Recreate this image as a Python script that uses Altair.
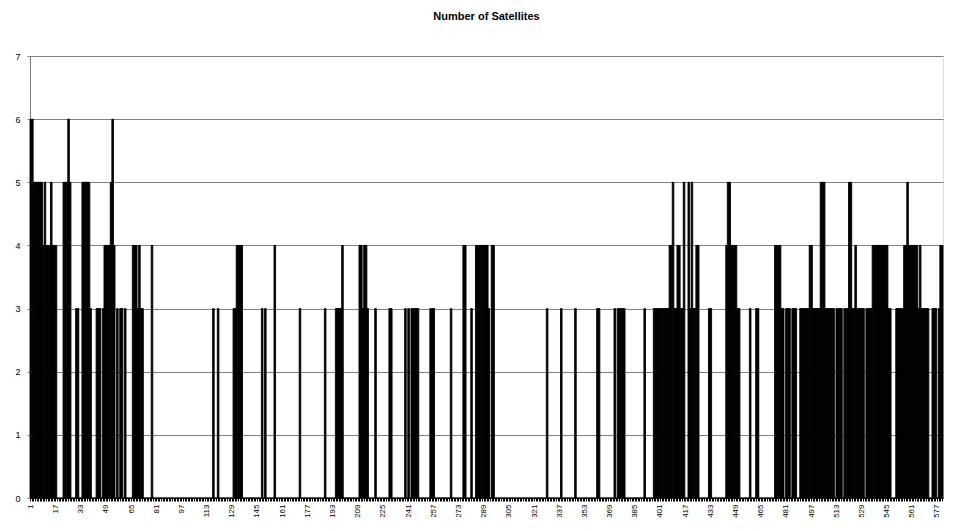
import altair as alt
import pandas as pd

title_text = "Number of Satellites"

# Run-length reading of the bars, left to right: value and number of consecutive bars
run_values = [
    6, 5, 4, 5, 4, 5, 4, 0, 5, 6,
    5, 0, 3, 0, 5, 3, 0, 3, 0, 3,
    4, 5, 6, 4, 0, 3, 0, 3, 0, 3,
    0, 4, 3, 4, 3, 0, 4, 0, 3, 0,
    3, 0, 3, 4, 0, 3, 0, 3, 0, 4,
    0, 3, 0, 3, 0, 3, 4, 0, 4, 3,
    4, 3, 0, 3, 0, 3, 0, 3, 0, 3,
    0, 3, 0, 3, 0, 3, 0, 4, 0, 3,
    0, 4, 3, 0, 4, 0, 3, 0, 3, 0,
    3, 0, 3, 0, 3, 0, 3, 0, 3, 0,
    3, 4, 5, 3, 4, 3, 5, 0, 5, 3,
    5, 3, 4, 0, 3, 0, 4, 5, 4, 3,
    0, 3, 0, 3, 0, 4, 3, 0, 3, 0,
    3, 0, 3, 4, 3, 5, 3, 0, 3, 0,
    3, 5, 3, 4, 3, 0, 3, 4, 3, 0,
    3, 4, 5, 4, 3, 4, 3, 0, 3, 0,
    3, 4,
]
run_lengths = [
    2, 6, 1, 1, 3, 1, 3, 4, 3, 1,
    1, 3, 2, 2, 5, 1, 3, 3, 1, 1,
    4, 1, 1, 1, 1, 1, 1, 2, 1, 1,
    4, 3, 1, 1, 2, 5, 1, 38, 1, 2,
    1, 9, 2, 4, 12, 1, 1, 1, 5, 1,
    15, 1, 15, 1, 6, 4, 1, 10, 2, 1,
    2, 1, 4, 1, 8, 2, 8, 1, 1, 1,
    1, 5, 7, 3, 10, 1, 7, 2, 3, 1,
    2, 8, 1, 1, 2, 33, 1, 8, 1, 8,
    1, 13, 2, 9, 1, 1, 5, 12, 1, 5,
    10, 2, 1, 2, 2, 2, 1, 2, 1, 1,
    1, 2, 2, 6, 2, 9, 1, 2, 4, 2,
    6, 1, 3, 2, 10, 4, 2, 1, 3, 1,
    3, 2, 6, 2, 5, 3, 6, 1, 4, 1,
    3, 2, 2, 1, 5, 1, 4, 10, 2, 3,
    5, 2, 1, 6, 1, 1, 5, 2, 3, 1,
    1, 2,
]

satellites = []
for v, n in zip(run_values, run_lengths):
    satellites.extend([v] * n)
epochs = list(range(1, len(satellites) + 1))
y_ticks = [0, 1, 2, 3, 4, 5, 6, 7]

df = pd.DataFrame({"epoch": epochs, "sats": satellites})

font = "Liberation Sans"

chart = (
    alt.Chart(df)
    .mark_bar(color="black", stroke="black", strokeWidth=0.9)
    .encode(
        x=alt.X(
            "epoch:O",
            scale=alt.Scale(paddingInner=0, paddingOuter=0),
            axis=alt.Axis(
                title=None,
                labelAngle=-90,
                labelExpr="(datum.value - 1) % 16 == 0 ? datum.label : ''",
                labelOverlap=False,
                labelFontSize=8,
                labelFont=font,
                labelColor="black",
                labelPadding=3,
                tickSize=3,
                tickColor="black",
                domainColor="black",
                grid=False,
            ),
        ),
        y=alt.Y(
            "sats:Q",
            scale=alt.Scale(domain=[0, 7], nice=False),
            axis=alt.Axis(
                title=None,
                values=y_ticks,
                grid=True,
                gridColor="#808080",
                gridWidth=1,
                domainColor="#808080",
                tickColor="#808080",
                tickSize=3,
                labelPadding=7,
                labelFontSize=9,
                labelFont=font,
                labelColor="black",
            ),
        ),
    )
    .properties(
        width=913,
        height=442,
        autosize="none",
        padding={"left": 22, "top": 48, "right": 2, "bottom": 22},
        title=alt.TitleParams(
            title_text,
            fontSize=11,
            font=font,
            fontWeight="bold",
            color="black",
            anchor="middle",
            offset=30,
        ),
    )
    .configure_view(strokeWidth=0)
    .configure(background="white")
)

chart.save("out.html", embed_options={"renderer": "svg", "actions": False})
